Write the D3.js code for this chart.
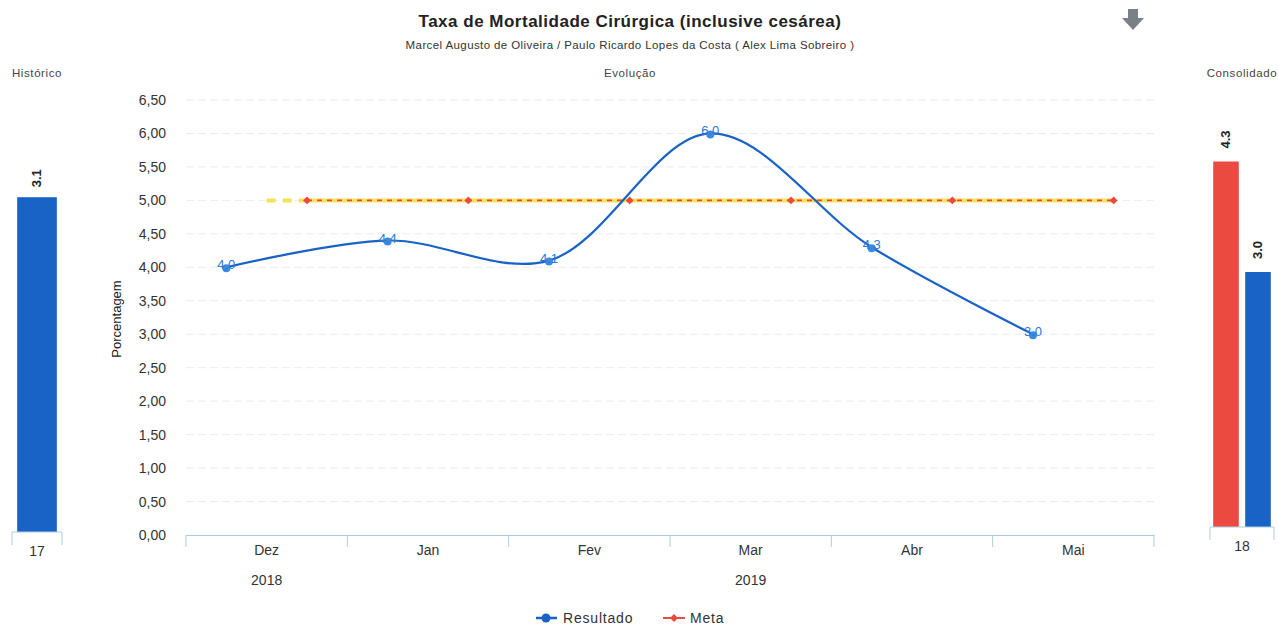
<!DOCTYPE html>
<html><head><meta charset="utf-8">
<script src="https://cdn.jsdelivr.net/npm/d3@7"></script>
<style>body{margin:0;background:#fff;font-family:"Liberation Sans",Arial,sans-serif}</style>
</head><body><svg id="c" width="1278" height="625"></svg>
<script>
const categories = ["Dez","Jan","Fev","Mar","Abr","Mai"];
const years = [{label:"2018", from:0, to:0},{label:"2019", from:1, to:5}];
const resultado = [4.0, 4.4, 4.1, 6.0, 4.3, 3.0];
const meta = [5.0, 5.0, 5.0, 5.0, 5.0, 5.0];
const yTicks = [0,0.5,1,1.5,2,2.5,3,3.5,4,4.5,5,5.5,6,6.5];
const historicoCats = ["17"];
const historicoValues = [3.1];
const consolidadoCats = ["18"];
const consolidadoMeta = [4.3];
const consolidadoResultado = [3.0];

const svg = d3.select("#c");
const blue = "#1a63c6", red = "#ea4a3f", yellow = "#f2e35a";
const fmt = d3.format(".1f");
const fmt2 = v => d3.format(".2f")(v).replace(".", ",");

// Titles
svg.append("text").attr("x",630).attr("y",27).attr("text-anchor","middle")
  .attr("font-size",17).attr("letter-spacing",0.5).attr("font-weight","bold").attr("fill","#222").text("Taxa de Mortalidade Cirúrgica (inclusive cesárea)");
svg.append("text").attr("x",630).attr("y",49).attr("text-anchor","middle")
  .attr("font-size",11.5).attr("letter-spacing",0.4).attr("fill","#333").text("Marcel Augusto de Oliveira / Paulo Ricardo Lopes da Costa ( Alex Lima Sobreiro )");
const sub = {size:11.5, ls:0.6, fill:"#444"};
svg.append("text").attr("x",630).attr("y",77).attr("text-anchor","middle")
  .attr("font-size",sub.size).attr("letter-spacing",sub.ls).attr("fill",sub.fill).text("Evolução");
svg.append("text").attr("x",37).attr("y",77).attr("text-anchor","middle")
  .attr("font-size",sub.size).attr("letter-spacing",sub.ls).attr("fill",sub.fill).text("Histórico");
svg.append("text").attr("x",1242).attr("y",77).attr("text-anchor","middle")
  .attr("font-size",sub.size).attr("letter-spacing",sub.ls).attr("fill",sub.fill).text("Consolidado");
// download arrow
svg.append("path").attr("d","M1128,9 h10 v9 h6 l-11,12 l-11,-12 h6 z").attr("fill","#7b8088");

// Main chart
const x = d3.scaleBand().domain(categories).range([186,1154]);
const y = d3.scaleLinear().domain([0,6.5]).range([535,100]);
const xr = c => x(c) + x.bandwidth()*0.25;
const xm = c => x(c) + x.bandwidth()*0.75;

const grid = svg.append("g");
grid.selectAll("line").data(yTicks.filter(d=>d>0)).join("line")
  .attr("x1",186).attr("x2",1154).attr("y1",d=>y(d)).attr("y2",d=>y(d))
  .attr("stroke","#ececec").attr("stroke-dasharray","8,4");

const yAxis = svg.append("g").attr("transform","translate(169,0)")
  .call(d3.axisLeft(y).tickValues(yTicks).tickFormat(fmt2).tickSize(0));
yAxis.select(".domain").remove();
yAxis.selectAll("text").attr("font-size",14).attr("fill","#333").attr("font-family","Liberation Sans, Arial");
svg.append("text").attr("transform","translate(121,319) rotate(-90)").attr("text-anchor","middle")
  .attr("font-size",13).attr("fill","#222").text("Porcentagem");

const xAxis = svg.append("g").attr("transform","translate(0,535)")
  .call(d3.axisBottom(x).tickSize(0).tickPadding(10));
xAxis.select(".domain").attr("stroke","#a9cde0");
xAxis.selectAll("text").attr("font-size",14).attr("fill","#333").attr("font-family","Liberation Sans, Arial");
const bounds = categories.map(c=>x(c)).concat([x(categories[categories.length-1])+x.bandwidth()]);
svg.append("g").selectAll("line").data(bounds).join("line")
  .attr("x1",d=>d).attr("x2",d=>d).attr("y1",535).attr("y2",547).attr("stroke","#a9cde0");
svg.append("g").selectAll("text").data(years).join("text")
  .attr("x",d=>(x(categories[d.from]) + x(categories[d.to]) + x.bandwidth())/2).attr("y",585)
  .attr("text-anchor","middle").attr("font-size",14).attr("fill","#333").text(d=>d.label);

// Meta lines
const metaPts = categories.map((c,i)=>[xm(c), y(meta[i])]);
svg.append("line").attr("x1",x(categories[0])+x.bandwidth()/2).attr("x2",metaPts[0][0])
  .attr("y1",y(meta[0])).attr("y2",y(meta[0])).attr("stroke",yellow).attr("stroke-width",4).attr("stroke-dasharray","9,7");
svg.append("path").attr("d",d3.line()(metaPts)).attr("fill","none").attr("stroke",yellow).attr("stroke-width",4);
svg.append("path").attr("d",d3.line()(metaPts)).attr("fill","none").attr("stroke",red).attr("stroke-width",1.6).attr("stroke-dasharray","5,5");
svg.append("g").selectAll("path").data(metaPts).join("path")
  .attr("transform",d=>`translate(${d[0]},${d[1]})`).attr("d",d3.symbol(d3.symbolDiamond2,40)).attr("fill",red);

// Resultado line
const resPts = categories.map((c,i)=>[xr(c), y(resultado[i])]);
svg.append("path").attr("d",d3.line().curve(d3.curveCatmullRom.alpha(0.5))(resPts))
  .attr("fill","none").attr("stroke",blue).attr("stroke-width",2.2);
svg.append("g").selectAll("circle").data(resPts).join("circle")
  .attr("cx",d=>d[0]).attr("cy",d=>d[1]+1).attr("r",4).attr("fill","#3b8ae0");
svg.append("g").selectAll("text").data(resultado).join("text")
  .attr("x",(d,i)=>resPts[i][0]).attr("y",(d,i)=>resPts[i][1]+2).attr("text-anchor","middle")
  .attr("font-size",13).attr("fill","#2a78d6").text(d=>fmt(d));

// Histórico
const hx = d3.scaleBand().domain(historicoCats).range([12,62]).paddingInner(0).paddingOuter(0.1);
const hy = d3.scaleLinear().domain([0,4]).range([532,100]);
svg.append("g").selectAll("rect").data(historicoValues).join("rect")
  .attr("x",(d,i)=>hx(historicoCats[i])+1).attr("width",hx.bandwidth()-2)
  .attr("y",d=>hy(d)).attr("height",d=>hy(0)-hy(d)).attr("fill",blue);
svg.append("g").selectAll("text").data(historicoValues).join("text")
  .attr("transform",(d,i)=>`translate(${hx(historicoCats[i])+hx.bandwidth()/2+4},${hy(d)-19}) rotate(-90)`)
  .attr("text-anchor","middle").attr("font-size",13).attr("font-weight","bold").attr("fill","#222").text(d=>fmt(d));
const hAxis = svg.append("g").attr("transform","translate(0,532)").call(d3.axisBottom(hx).tickSize(0).tickPadding(14));
hAxis.select(".domain").attr("stroke","#a9cde0").attr("d","M12,13V0H62V13");
hAxis.selectAll("text").attr("font-size",14).attr("fill","#333").attr("font-family","Liberation Sans, Arial");

// Consolidado
const cx0 = d3.scaleBand().domain(consolidadoCats).range([1210,1274]);
const cx1 = d3.scaleBand().domain(["meta","res"]).range([0,cx0.bandwidth()]).paddingInner(0.2).paddingOuter(0.1);
const cy = d3.scaleLinear().domain([0,5]).range([527,102]);
const cdata = consolidadoCats.flatMap((c,i)=>[{c,k:"meta",v:consolidadoMeta[i],col:red},{c,k:"res",v:consolidadoResultado[i],col:blue}]);
svg.append("g").selectAll("rect").data(cdata).join("rect")
  .attr("x",d=>cx0(d.c)+cx1(d.k)).attr("width",cx1.bandwidth())
  .attr("y",d=>cy(d.v)).attr("height",d=>cy(0)-cy(d.v)).attr("fill",d=>d.col);
svg.append("g").selectAll("text").data(cdata).join("text")
  .attr("transform",d=>`translate(${cx0(d.c)+cx1(d.k)+cx1.bandwidth()/2+4},${cy(d.v)-22}) rotate(-90)`)
  .attr("text-anchor","middle").attr("font-size",13).attr("font-weight","bold").attr("fill","#222").text(d=>fmt(d.v));
const cAxis = svg.append("g").attr("transform","translate(0,527)").call(d3.axisBottom(cx0).tickSize(0).tickPadding(14));
cAxis.select(".domain").attr("stroke","#a9cde0").attr("d","M1210,13V0H1274V13");
cAxis.selectAll("text").attr("font-size",14).attr("fill","#333").attr("font-family","Liberation Sans, Arial");

// Legend
const lg = svg.append("g").attr("transform","translate(0,618)");
lg.append("line").attr("x1",536).attr("x2",557).attr("stroke",blue).attr("stroke-width",2.5);
lg.append("circle").attr("cx",546).attr("r",4.5).attr("fill",blue);
lg.append("text").attr("x",563).attr("y",5).attr("font-size",14).attr("letter-spacing",0.8).attr("fill","#333").text("Resultado");
lg.append("line").attr("x1",663).attr("x2",685).attr("stroke",red).attr("stroke-width",2);
lg.append("path").attr("transform","translate(674,0)").attr("d",d3.symbol(d3.symbolDiamond2,40)).attr("fill",red);
lg.append("text").attr("x",690).attr("y",5).attr("font-size",14).attr("letter-spacing",0.8).attr("fill","#333").text("Meta");
</script></body></html>
